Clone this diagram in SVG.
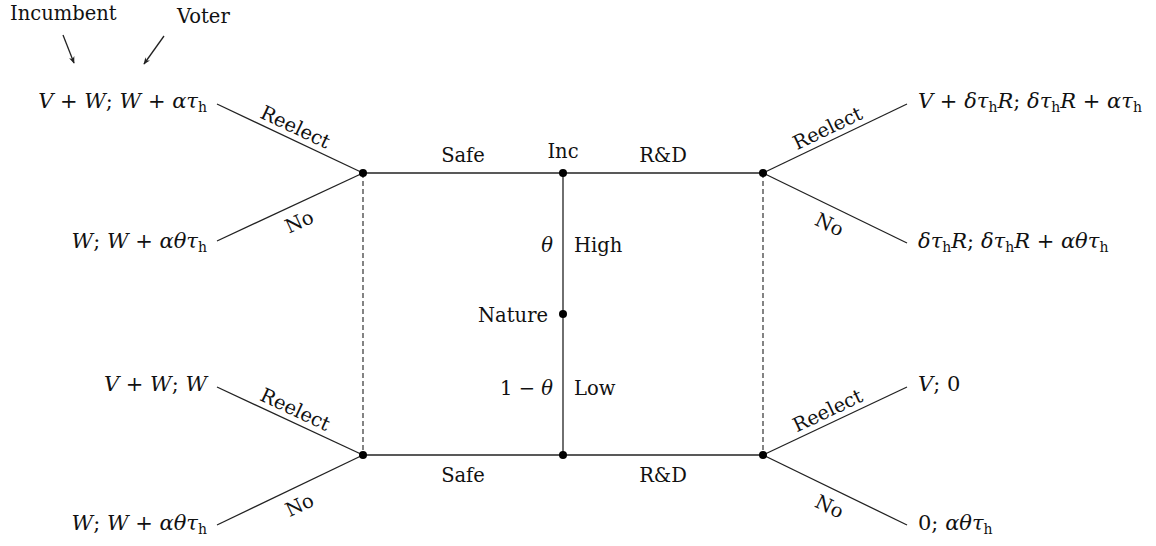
<svg xmlns="http://www.w3.org/2000/svg" width="1156" height="546" viewBox="0 0 1156 546">
<style>
text{font-family:"DejaVu Serif","Liberation Serif",serif;font-size:19.5px;fill:#111}
.p{font-size:21px}
.m{font-style:italic}
.s{font-size:14px;font-style:normal}
.e{stroke:#222;stroke-width:1.3;fill:none}
.d{stroke:#333;stroke-width:1.2;stroke-dasharray:5 3;fill:none}
.dot{fill:#000}
.r{text-anchor:end}
.c{text-anchor:middle}
</style>
<defs>
<marker id="ah" viewBox="0 0 10 10" refX="9" refY="5" markerWidth="7" markerHeight="7" orient="auto" markerUnits="userSpaceOnUse">
<path d="M0,1 L10,5 L0,9 L3,5 Z" fill="#222"/>
</marker>
</defs>
<rect width="1156" height="546" fill="#fff"/>
<g id="connectors">
<line class="e" x1="363" y1="173" x2="763" y2="173"/>
<line class="e" x1="363" y1="455" x2="763" y2="455"/>
<line class="e" x1="563" y1="173" x2="563" y2="455"/>
<line class="d" x1="363" y1="173" x2="363" y2="455"/>
<line class="d" x1="763" y1="173" x2="763" y2="455"/>
<line class="e" x1="363" y1="173" x2="217" y2="104"/>
<line class="e" x1="363" y1="173" x2="217" y2="241"/>
<line class="e" x1="363" y1="455" x2="217" y2="387"/>
<line class="e" x1="363" y1="455" x2="217" y2="525"/>
<line class="e" x1="763" y1="173" x2="907" y2="104"/>
<line class="e" x1="763" y1="173" x2="907" y2="243"/>
<line class="e" x1="763" y1="455" x2="907" y2="387"/>
<line class="e" x1="763" y1="455" x2="907" y2="525"/>
<line class="e" x1="63" y1="35" x2="74" y2="63" marker-end="url(#ah)"/>
<line class="e" x1="164" y1="36" x2="144" y2="64" marker-end="url(#ah)"/>
</g>
<g id="edge-labels">
<text class="c" x="463" y="162">Safe</text>
<text class="c" x="663" y="162">R&amp;D</text>
<text class="c" x="463" y="482">Safe</text>
<text class="c" x="663" y="482">R&amp;D</text>
<text class="r" x="553" y="252"><tspan class="m">θ</tspan></text>
<text x="574" y="252">High</text>
<text class="r" x="553" y="395">1 − <tspan class="m">θ</tspan></text>
<text x="574" y="395">Low</text>
<g transform="translate(290,138.5) rotate(25.3)"><text class="c" x="0" y="-6">Reelect</text></g>
<g transform="translate(292,206) rotate(-25)"><text class="c" x="0" y="24">No</text></g>
<g transform="translate(290,421) rotate(25)"><text class="c" x="0" y="-6">Reelect</text></g>
<g transform="translate(292,489.5) rotate(-25.6)"><text class="c" x="0" y="24">No</text></g>
<g transform="translate(833,139.5) rotate(-25.6)"><text class="c" x="0" y="-6">Reelect</text></g>
<g transform="translate(837,209) rotate(25.9)"><text class="c" x="0" y="24">No</text></g>
<g transform="translate(833,422) rotate(-25.3)"><text class="c" x="0" y="-6">Reelect</text></g>
<g transform="translate(837,491) rotate(25.9)"><text class="c" x="0" y="24">No</text></g>
</g>
<g id="node-inc-top">
<circle class="dot" cx="563" cy="173" r="4"/>
<text class="c" x="563" y="158">Inc</text>
</g>
<g id="node-nature">
<circle class="dot" cx="563" cy="314" r="4"/>
<text class="r" x="548" y="322">Nature</text>
</g>
<g id="node-inc-bottom">
<circle class="dot" cx="563" cy="455" r="4"/>
</g>
<g id="node-voter-tl">
<circle class="dot" cx="363" cy="173" r="4"/>
</g>
<g id="node-voter-bl">
<circle class="dot" cx="363" cy="455" r="4"/>
</g>
<g id="node-voter-tr">
<circle class="dot" cx="763" cy="173" r="4"/>
</g>
<g id="node-voter-br">
<circle class="dot" cx="763" cy="455" r="4"/>
</g>
<g id="players">
<text x="10" y="20">Incumbent</text>
<text x="177" y="23">Voter</text>
</g>
<g id="payoffs-left">
<text class="r p" x="207" y="108"><tspan class="m">V</tspan> + <tspan class="m">W</tspan>; <tspan class="m">W</tspan> + <tspan class="m">ατ</tspan><tspan class="s" dy="4">h</tspan></text>
<text class="r p" x="207" y="248"><tspan class="m">W</tspan>; <tspan class="m">W</tspan> + <tspan class="m">αθτ</tspan><tspan class="s" dy="4">h</tspan></text>
<text class="r p" x="207" y="391"><tspan class="m">V</tspan> + <tspan class="m">W</tspan>; <tspan class="m">W</tspan></text>
<text class="r p" x="207" y="530"><tspan class="m">W</tspan>; <tspan class="m">W</tspan> + <tspan class="m">αθτ</tspan><tspan class="s" dy="4">h</tspan></text>
</g>
<g id="payoffs-right">
<text class="p" x="918" y="108"><tspan class="m">V</tspan> + <tspan class="m">δτ</tspan><tspan class="s" dy="4">h</tspan><tspan class="m" dy="-4">R</tspan>; <tspan class="m">δτ</tspan><tspan class="s" dy="4">h</tspan><tspan class="m" dy="-4">R</tspan> + <tspan class="m">ατ</tspan><tspan class="s" dy="4">h</tspan></text>
<text class="p" x="918" y="248"><tspan class="m">δτ</tspan><tspan class="s" dy="4">h</tspan><tspan class="m" dy="-4">R</tspan>; <tspan class="m">δτ</tspan><tspan class="s" dy="4">h</tspan><tspan class="m" dy="-4">R</tspan> + <tspan class="m">αθτ</tspan><tspan class="s" dy="4">h</tspan></text>
<text class="p" x="918" y="391"><tspan class="m">V</tspan>; 0</text>
<text class="p" x="918" y="530">0; <tspan class="m">αθτ</tspan><tspan class="s" dy="4">h</tspan></text>
</g>
</svg>
